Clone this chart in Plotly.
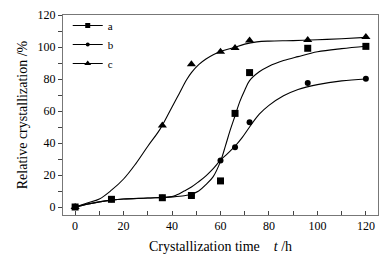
import plotly.graph_objects as go

# measured points
time_a = [0, 15, 36, 48, 60, 66, 72, 96, 120]
cryst_a = [0, 4.8, 5.8, 7.2, 16.3, 58.5, 84, 99.2, 100.4]
time_b = [0, 15, 36, 48, 60, 66, 72, 96, 120]
cryst_b = [0, 4.8, 5.8, 7.2, 29, 37.3, 53, 77.5, 80.1]
time_c = [0, 36, 48, 60, 66, 72, 96, 120]
cryst_c = [0, 51, 89.2, 97, 99.4, 104, 104.3, 106.3]

# fitted curves
fit_a_x = [0, 5, 10, 15, 20, 30, 40, 45, 48, 51, 54, 57, 60, 62, 64, 66, 68, 70, 72, 76, 80, 86, 92, 100, 110, 120]
fit_a_y = [0, 1.8, 3.2, 4.3, 5.0, 5.6, 6.3, 7.0, 8, 10, 14, 19, 28.5, 38, 48, 57, 66, 73, 79, 84.5, 88, 91.5, 94, 97, 99, 100.5]
fit_b_x = [0, 5, 10, 15, 20, 30, 40, 42, 45, 48, 51, 54, 57, 60, 63, 66, 69, 72, 76, 80, 86, 92, 100, 110, 120]
fit_b_y = [0, 1.8, 3.2, 4.3, 5.0, 5.6, 6.5, 7.6, 10, 12.5, 15.8, 19.5, 24, 29.3, 33.5, 38, 43.5, 50, 58, 63.5, 69.5, 73.5, 76.5, 78.8, 80]
fit_c_x = [0, 5, 10, 15, 20, 25, 30, 35, 40, 43, 46, 48, 51, 54, 57, 60, 65, 70, 75, 80, 90, 100, 110, 120]
fit_c_y = [0, 2.5, 5, 10.5, 17.5, 27, 38, 48.5, 62.5, 71, 79.5, 84, 89, 92.5, 95.2, 97.2, 99.4, 101.8, 103.2, 103.7, 104, 104.5, 105.2, 106]

names = ["a", "b", "c"]
symbols = ["square", "circle", "triangle-up"]
sizes = [7, 6, 8]

fig = go.Figure()
for fx, fy in [(fit_a_x, fit_a_y), (fit_b_x, fit_b_y), (fit_c_x, fit_c_y)]:
    fig.add_trace(go.Scatter(x=fx, y=fy, mode="lines", line=dict(color="black", width=1.1, shape="spline"),
                             showlegend=False, hoverinfo="skip"))
for tx, ty, sym, sz in [(time_a, cryst_a, symbols[0], sizes[0]), (time_b, cryst_b, symbols[1], sizes[1]),
                        (time_c, cryst_c, symbols[2], sizes[2])]:
    fig.add_trace(go.Scatter(x=tx, y=ty, mode="markers", marker=dict(symbol=sym, size=sz, color="black"),
                             showlegend=False))
for nm, sym, sz in zip(names, symbols, sizes):
    fig.add_trace(go.Scatter(x=[None], y=[None], mode="lines+markers", name=nm,
                             line=dict(color="black", width=1.1),
                             marker=dict(symbol=sym, size=sz - 2, color="black")))

font = dict(family="Liberation Serif, Times New Roman, serif", size=12, color="black")
fig.update_layout(
    width=387, height=259,
    margin=dict(l=63, r=8, t=9, b=42),
    paper_bgcolor="white", plot_bgcolor="white",
    font=font,
    showlegend=True,
    legend=dict(x=0.015, y=1.02, xanchor="left", yanchor="top", bgcolor="rgba(0,0,0,0)",
                font=dict(family=font["family"], size=11), tracegroupgap=0, itemwidth=30),
    xaxis=dict(range=[-5, 125], tickvals=[0, 20, 40, 60, 80, 100, 120], ticks="inside", ticklen=4,
               tickcolor="#444", showline=True, linecolor="#777", linewidth=1, mirror=True,
               showgrid=False, zeroline=False,
               minor=dict(tickvals=[10, 30, 50, 70, 90, 110], ticks="inside", ticklen=4, tickcolor="#444"),
               title=dict(text="Crystallization time\u00a0\u00a0\u00a0\u00a0<i>t</i> /h", standoff=8)),
    yaxis=dict(range=[-5, 120], tickvals=[0, 20, 40, 60, 80, 100, 120], ticks="outside", ticklen=4,
               tickcolor="#444", showline=True, linecolor="#777", linewidth=1, mirror=True,
               showgrid=False, zeroline=False,
               minor=dict(tickvals=[10, 30, 50, 70, 90, 110], ticks="outside", ticklen=4, tickcolor="#444"),
               title=dict(text="Relative crystallization /%", standoff=6)),
)
fig.write_html("out.html", config={"displayModeBar": False})

with open("out.html", "r", encoding="utf-8") as f:
    html = f.read()
html = html.replace("<head>", "<head><style>html,body{margin:0;padding:0;overflow:hidden;}</style>", 1)
with open("out.html", "w", encoding="utf-8") as f:
    f.write(html)
